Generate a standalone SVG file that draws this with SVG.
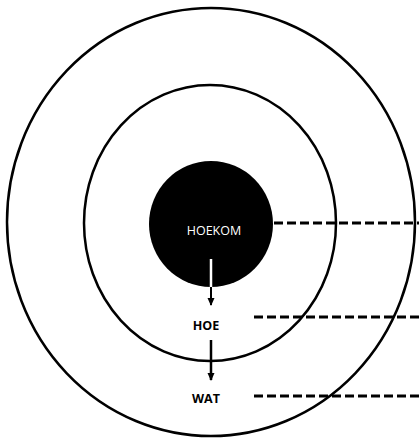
<svg xmlns="http://www.w3.org/2000/svg" width="419" height="439" viewBox="0 0 419 439">
<style>
.ring{fill:none;stroke:#000;stroke-width:2.5}
.dash{stroke:#000;stroke-width:3;stroke-dasharray:9 4;fill:none}
.lbl{font-family:"Open Sans","Liberation Sans",sans-serif;font-size:12.5px;text-anchor:middle}
</style>
<defs>
<marker id="ah" markerWidth="8" markerHeight="10" refX="7" refY="4" orient="auto" markerUnits="userSpaceOnUse">
<path d="M0,0.5 L8,4 L0,7.5 z" fill="#000"/>
</marker>
</defs>
<rect width="419" height="439" fill="#fff"/>
<g id="outer"><ellipse class="ring" cx="211" cy="222" rx="204" ry="214"/></g>
<g id="middle"><ellipse class="ring" cx="210" cy="223" rx="126" ry="138"/></g>
<g id="hoekom">
<ellipse cx="211" cy="224" rx="62" ry="63" fill="#000"/>
<text class="lbl" x="214" y="235" fill="#fff" font-size="13.5">HOEKOM</text>
</g>
<g id="hoe"><text class="lbl" x="206" y="330" font-weight="bold">HOE</text></g>
<g id="wat"><text class="lbl" x="206" y="403" font-weight="bold">WAT</text></g>
<g id="connectors">
<line x1="211" y1="259" x2="211" y2="287" stroke="#fff" stroke-width="2.5"/>
<line x1="211" y1="287" x2="211" y2="305" stroke="#000" stroke-width="2" marker-end="url(#ah)"/>
<line x1="211" y1="340" x2="211" y2="380" stroke="#000" stroke-width="2.5" marker-end="url(#ah)"/>
<line class="dash" x1="274" y1="223" x2="419" y2="223"/>
<line class="dash" x1="254" y1="317" x2="419" y2="317"/>
<line class="dash" x1="254" y1="396" x2="419" y2="396" stroke="#444"/>
</g>
</svg>
